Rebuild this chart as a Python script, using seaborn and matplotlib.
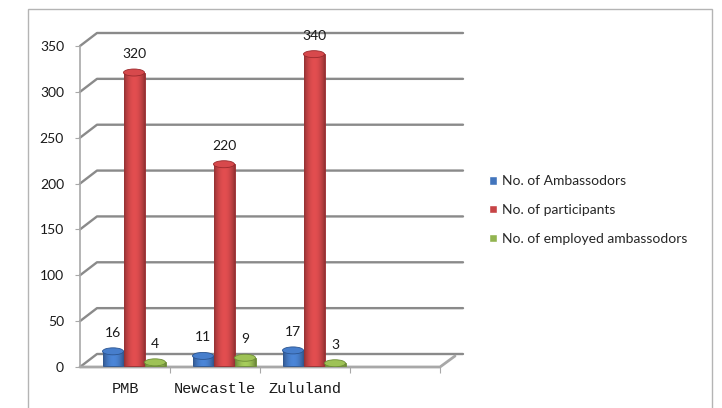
import numpy as np
import pandas as pd
import seaborn as sns
import matplotlib
matplotlib.use("Agg")
import matplotlib.pyplot as plt
from matplotlib.transforms import ScaledTranslation, blended_transform_factory
from matplotlib.patches import Rectangle, Ellipse
from matplotlib.lines import Line2D
from matplotlib.colors import to_rgb

# ---- data ----
cities = ["PMB", "Newcastle", "Zululand"]
series_names = ["No. of Ambassodors", "No. of participants", "No. of employed ambassodors"]
ambassadors = [16, 11, 17]
participants = [320, 220, 340]
employed = [4, 9, 3]
y_ticks = [0, 50, 100, 150, 200, 250, 300, 350]

colors = ["#4275bd", "#c74446", "#92b450"]
edge_colors = ["#2c5590", "#9a2a2d", "#6d8c36"]

df = pd.DataFrame({
    "city": cities * 3,
    "series": [series_names[0]] * 3 + [series_names[1]] * 3 + [series_names[2]] * 3,
    "value": ambassadors + participants + employed,
})

sns.set_theme(style="white")
plt.rcParams["font.family"] = ["Lato", "DejaVu Sans"]

W, H, DPI = 722, 408, 100
fig = plt.figure(figsize=(W / DPI, H / DPI), dpi=DPI)

# axes frame in pixels (front plane of the 3-D box)
ax_left, ax_right, ax_bottom, ax_top = 80, 440, 367, 46
ax = fig.add_axes([ax_left / W, (H - ax_bottom) / H,
                   (ax_right - ax_left) / W, (ax_bottom - ax_top) / H])

sns.barplot(data=df, x="city", y="value", hue="series", order=cities,
            hue_order=series_names, palette=colors, width=0.7,
            saturation=1, ax=ax, legend=True)

ax.set_xlabel("")
ax.set_ylabel("")
for s in ax.spines.values():
    s.set_visible(False)

# pixel helpers
px_per_unit = (ax_bottom - ax_top) / 350.0
ax_w_px = ax_right - ax_left
depth_dx, depth_dy = 17, 13          # back-wall offset in pixels
grid_end = 463                        # right end of back-wall gridlines

grid_color = "#8a8a8a"
bt = blended_transform_factory(ax.transAxes, ax.transData)
for v in y_ticks:
    xs = [0, depth_dx / ax_w_px, (grid_end - ax_left) / ax_w_px]
    ys = [v, v + depth_dy / px_per_unit, v + depth_dy / px_per_unit]
    ax.add_line(Line2D(xs, ys, transform=bt, color=grid_color, lw=1.7,
                       clip_on=False, zorder=0.5))

# floor front edge and right slant
ax.add_line(Line2D([0, 1, (ax_right - ax_left + 15) / ax_w_px],
                   [0, 0, 11 / px_per_unit], transform=bt,
                   color="#a8a8a8", lw=2.0, clip_on=False, zorder=0.6))
# left (value) axis line
ax.add_line(Line2D([0, 0], [0, 350], transform=bt, color="#a8a8a8",
                   lw=1.2, clip_on=False, zorder=0.6))

# bars sit a little into the depth of the box; give them a cylindrical shading
shift = ScaledTranslation(9 / DPI, 1 / DPI, fig.dpi_scale_trans)
cap_px = 7
t = np.linspace(0, 1, 64)
profile = 0.72 + 0.42 * np.sin(np.pi * t) ** 0.8
for cont, base, ec in zip(ax.containers, colors, edge_colors):
    rgb = np.array(to_rgb(base))
    shade = np.clip(profile[:, None] * rgb[None, :], 0, 1)[None, :, :]
    for p in cont.patches:
        p.set_transform(ax.transData + shift)
        p.set_edgecolor(ec)
        p.set_linewidth(0.6)
        p.set_zorder(2)
        x0, w, h = p.get_x(), p.get_width(), p.get_height()
        im = ax.imshow(shade, extent=(x0, x0 + w, 0, h), aspect="auto",
                       interpolation="bilinear", zorder=2.1)
        im.set_transform(ax.transData + shift)
        im.set_clip_path(p)
        cap = Ellipse((x0 + w / 2, h), w, cap_px / px_per_unit,
                      facecolor=np.clip(rgb * 1.08, 0, 1), edgecolor=ec,
                      lw=0.6, zorder=2.2)
        cap.set_transform(ax.transData + shift)
        ax.add_patch(cap)

ax.set_xlim(-0.5, 3.5)
ax.set_ylim(0, 350)

# value labels
for cont, vals in zip(ax.containers, [ambassadors, participants, employed]):
    for p, v in zip(cont.patches, vals):
        cx = p.get_x() + p.get_width() / 2
        ax.annotate(str(v), xy=(cx, v), xycoords="data",
                    xytext=(9 * 0.72, (1 + cap_px / 2 + 9) * 0.72),
                    textcoords="offset points",
                    ha="center", va="bottom", fontsize=10, color="#1a1a1a",
                    family=["Lato", "DejaVu Sans"], zorder=5)

# ticks
ax.set_yticks(y_ticks)
ax.set_yticklabels([str(t) for t in y_ticks], fontsize=10, color="#1a1a1a")
ax.tick_params(axis="y", which="major", left=True, length=3.5, width=0.8,
               color="#a8a8a8", pad=8)
ax.set_xticks(range(len(cities)))
ax.set_xticklabels(cities, fontsize=11, family=["Liberation Mono", "DejaVu Sans Mono"],
                   color="#1a1a1a")
ax.tick_params(axis="x", which="major", length=0, pad=11)
ax.set_xticks([0.5, 1.5, 2.5, 3.5], minor=True)
ax.tick_params(axis="x", which="minor", bottom=True, length=4, width=0.8,
               color="#a8a8a8", direction="out")
ax.grid(False)

# legend
leg = ax.get_legend()
handles = leg.legend_handles
ax.legend_.remove()
fig.legend(handles, series_names, loc="center left",
           bbox_to_anchor=(482 / W, 1 - 210 / H), frameon=False,
           fontsize=10, handlelength=0.55, handleheight=0.55,
           handletextpad=0.4, labelspacing=1.2, borderpad=0)

# outer chart border
fig.add_artist(Rectangle((28 / W, -0.05), (712 - 28) / W, 1.05 - 9 / H,
                         transform=fig.transFigure, fill=False,
                         edgecolor="#b4b4b4", lw=1.0))

fig.savefig("out.png", dpi=DPI)
